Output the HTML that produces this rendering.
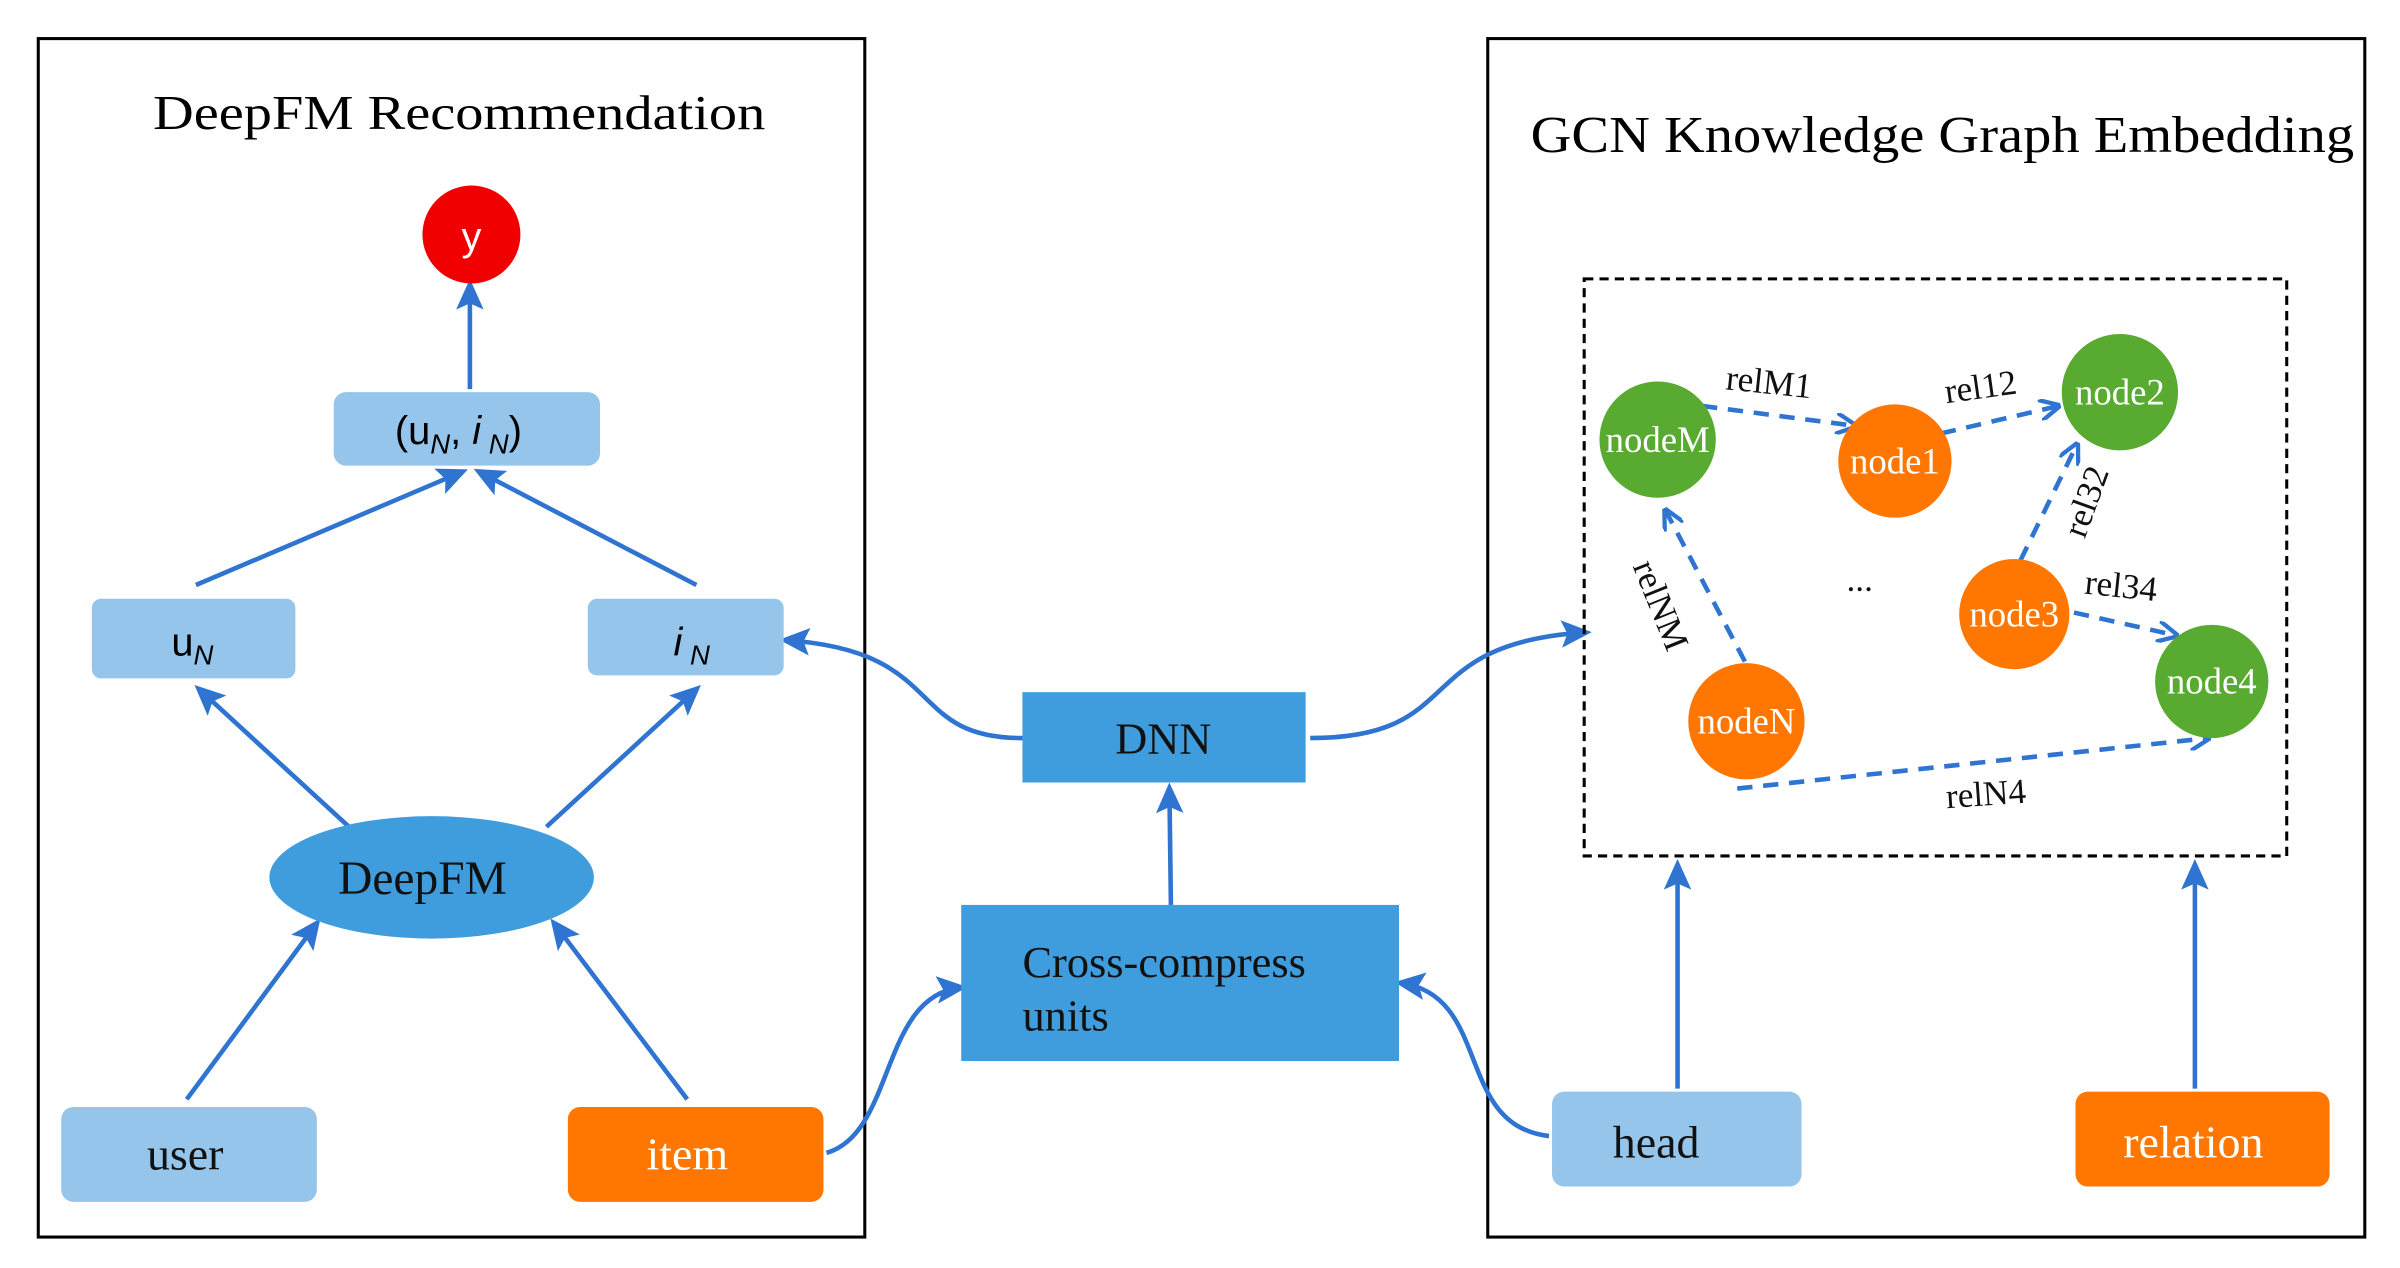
<!DOCTYPE html>
<html><head><meta charset="utf-8"><style>html,body{margin:0;padding:0;background:#fff}svg{display:block}</style></head>
<body>
<svg width="2400" height="1268" viewBox="0 0 1568 828" xmlns="http://www.w3.org/2000/svg" font-family="'Liberation Serif', serif">
<defs>
<marker id="a" viewBox="0 0 10 10" refX="8" refY="5" markerWidth="20" markerHeight="20" orient="auto" markerUnits="userSpaceOnUse">
<path d="M0,0.5 L10,5 L0,9.5 L2,5 Z" fill="#2f74d0"/>
</marker>
<marker id="o" viewBox="0 0 10 10" refX="9" refY="5" markerWidth="14" markerHeight="14" orient="auto" markerUnits="userSpaceOnUse">
<path d="M0,0 L10,5 L0,10" fill="none" stroke="#2f74d0" stroke-width="2"/>
</marker>
</defs>
<rect width="1568" height="828" fill="#fff"/>
<rect x="25" y="25" width="540" height="783" fill="none" stroke="#000" stroke-width="2"/>
<rect x="972" y="25" width="573" height="783" fill="none" stroke="#000" stroke-width="2"/>
<text x="100" y="84" font-size="32" textLength="400" lengthAdjust="spacingAndGlyphs">DeepFM Recommendation</text>
<text x="1000" y="99" font-size="34" textLength="538" lengthAdjust="spacingAndGlyphs">GCN Knowledge Graph Embedding</text>

<g stroke="#2f74d0" stroke-width="3" fill="none" marker-end="url(#a)">
<line x1="307" y1="254" x2="307" y2="186"/>
<line x1="128" y1="382" x2="302" y2="308"/>
<line x1="455" y1="382" x2="313" y2="308"/>
<line x1="228" y1="540" x2="130" y2="450"/>
<line x1="357" y1="540" x2="455" y2="450"/>
<line x1="122" y1="718" x2="207" y2="603"/>
<line x1="449" y1="718" x2="362" y2="603"/>
<line x1="765" y1="591" x2="764" y2="515"/>
<line x1="1096" y1="711" x2="1096" y2="565"/>
<line x1="1434" y1="711" x2="1434" y2="565"/>
<path d="M540,753 C585,740 575,650 628,645"/>
<path d="M668,482 C590,482 620,425 513,418"/>
<path d="M856,482 C960,482 920,420 1036,413"/>
<path d="M1012,742 C950,735 975,650 915,642"/>
</g>

<circle cx="308" cy="153" r="32" fill="#f00000"/>
<text x="308" y="163" font-size="26" fill="#fff" text-anchor="middle" font-family="'Liberation Sans', sans-serif">y</text>

<rect x="218" y="256" width="174" height="48" rx="8" fill="#95c5ea"/>
<text x="258" y="290" font-size="26" font-family="'Liberation Sans', sans-serif">(u<tspan font-size="18" font-style="italic" dy="6">N</tspan><tspan dy="-6">, </tspan><tspan font-style="italic">i</tspan><tspan font-size="18" font-style="italic" dy="6"> N</tspan><tspan dy="-6">)</tspan></text>
<rect x="60" y="391" width="133" height="52" rx="6" fill="#95c5ea"/>
<text x="112" y="428" font-size="26" font-family="'Liberation Sans', sans-serif">u<tspan font-size="18" font-style="italic" dy="6">N</tspan></text>
<rect x="384" y="391" width="128" height="50" rx="6" fill="#95c5ea"/>
<text x="440" y="428" font-size="26" font-style="italic" font-family="'Liberation Sans', sans-serif">i<tspan font-size="18" dy="6"> N</tspan></text>

<ellipse cx="282" cy="573" rx="106" ry="40" fill="#3f9ddd"/>
<text x="276" y="584" font-size="31" text-anchor="middle" fill="#111">DeepFM</text>

<rect x="40" y="723" width="167" height="62" rx="8" fill="#95c5ea"/>
<text x="121" y="764" font-size="30" text-anchor="middle" fill="#111">user</text>
<rect x="371" y="723" width="167" height="62" rx="8" fill="#ff7700"/>
<text x="449" y="764" font-size="30" text-anchor="middle" fill="#fff">item</text>

<rect x="628" y="591" width="286" height="102" fill="#3f9ddd"/>
<text x="668" y="638" font-size="29" fill="#111">Cross-compress</text>
<text x="668" y="673" font-size="29" fill="#111">units</text>
<rect x="668" y="452" width="185" height="59" fill="#3f9ddd"/>
<text x="760" y="492" font-size="29" text-anchor="middle" fill="#111">DNN</text>

<rect x="1014" y="713" width="163" height="62" rx="8" fill="#95c5ea"/>
<text x="1082" y="756" font-size="30" text-anchor="middle" fill="#111">head</text>
<rect x="1356" y="713" width="166" height="62" rx="8" fill="#ff7700"/>
<text x="1433" y="756" font-size="30" text-anchor="middle" fill="#fff">relation</text>

<rect x="1035" y="182" width="459" height="377" fill="none" stroke="#000" stroke-width="2" stroke-dasharray="6,4"/>

<g stroke="#2f74d0" stroke-width="3" fill="none" stroke-dasharray="10,7" marker-end="url(#o)">
<line x1="1112" y1="265" x2="1212" y2="278"/>
<line x1="1268" y1="283" x2="1345" y2="265"/>
<line x1="1320" y1="366" x2="1357" y2="290"/>
<line x1="1355" y1="400" x2="1422" y2="415"/>
<line x1="1140" y1="432" x2="1088" y2="333"/>
<line x1="1135" y1="515" x2="1443" y2="482"/>
</g>

<g font-size="24" text-anchor="middle" fill="#fff">
<circle cx="1083" cy="287" r="38" fill="#58ab30"/><text x="1083" y="295">nodeM</text>
<circle cx="1238" cy="301" r="37" fill="#ff7700"/><text x="1238" y="309">node1</text>
<circle cx="1385" cy="256" r="38" fill="#58ab30"/><text x="1385" y="264">node2</text>
<circle cx="1316" cy="401" r="36" fill="#ff7700"/><text x="1316" y="409">node3</text>
<circle cx="1445" cy="445" r="37" fill="#58ab30"/><text x="1445" y="453">node4</text>
<circle cx="1141" cy="471" r="38" fill="#ff7700"/><text x="1141" y="479">nodeN</text>
</g>
<g font-size="23" fill="#111" text-anchor="middle">
<text x="1155" y="257" transform="rotate(6 1155 257)">relM1</text>
<text x="1295" y="260" transform="rotate(-8 1295 260)">rel12</text>
<text x="1370" y="330" transform="rotate(-70 1370 330)">rel32</text>
<text x="1385" y="390" transform="rotate(6 1385 390)">rel34</text>
<text x="1078" y="398" transform="rotate(68 1078 398)">relNM</text>
<text x="1298" y="526" transform="rotate(-4 1298 526)">relN4</text>
<text x="1215" y="386">...</text>
</g>
</svg>
</body></html>
